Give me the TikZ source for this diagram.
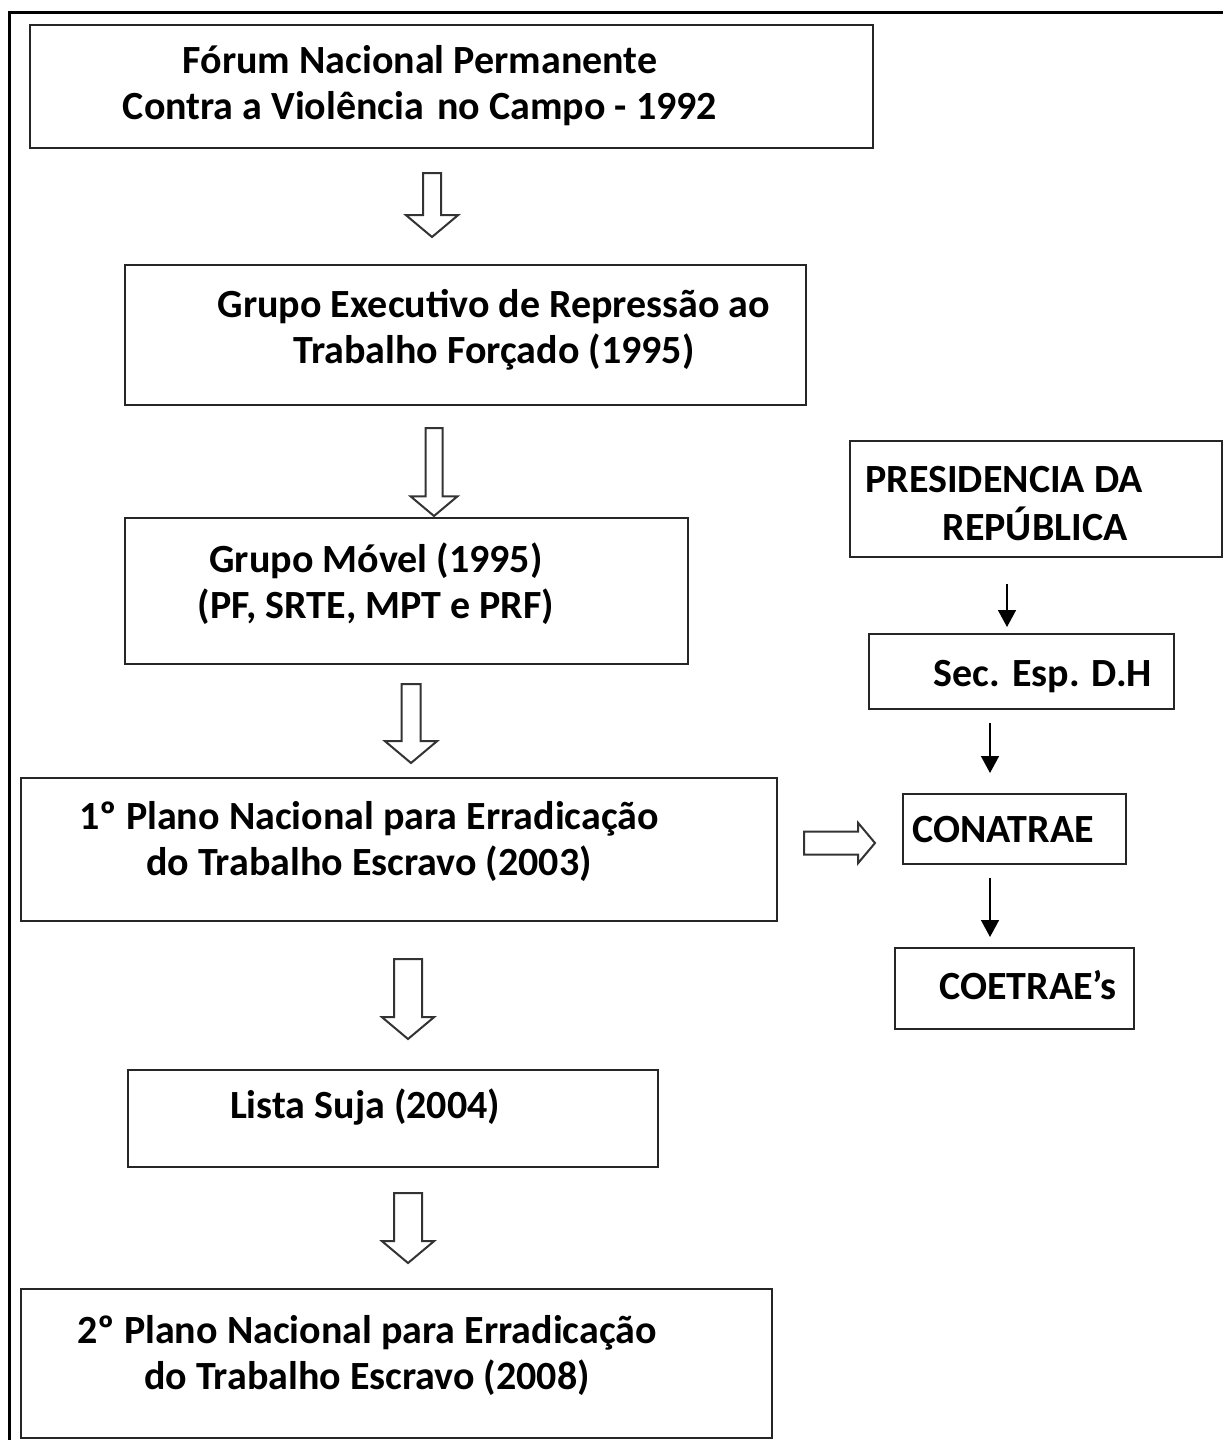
\documentclass[tikz,border=0pt]{standalone}
\usepackage{fontspec}
\setmainfont{Carlito}
\usetikzlibrary{fit,shapes.arrows,arrows.meta}

\tikzset{
	box/.style={draw=black!85,line width=1pt,inner sep=0pt},
	txt/.style={font=\fontsize{20pt}{23pt}\selectfont\bfseries,align=center,inner sep=0pt},
	hollow/.style={single arrow,draw=black!80,line width=1pt,anchor=tail,inner xsep=0pt,single arrow tip angle=100},
	flow/.style={-{Triangle[length=8.5pt,width=9pt]},line width=0.75pt}
}

\begin{document}
\begin{tikzpicture}[x=0.5pt,y=-0.5pt]
		\useasboundingbox (0,0) rectangle (1223,1440);
		\draw[line width=1.5pt] (9,1440) -- (9,12) -- (1223,12);
		
		% left column
		\node[box,fit={(30,25) (873,148)}] (forum) {};
		\node[txt] (t-forum) at (420,86) {Fórum Nacional Permanente\\Contra a Violência\hspace{2pt} no Campo - 1992};
		
		\node[box,fit={(125,265) (806,405)}] (gexec) {};
		\node[txt] (t-gexec) at (494,330) {Grupo Executivo de Repressão ao\\Trabalho Forçado (1995)};
		
		\node[box,fit={(125,518) (688,664)}] (gmovel) {};
		\node[txt] (t-gmovel) at (376,584) {Grupo Móvel (1995)\\(PF, SRTE, MPT e PRF)};
		
		\node[box,fit={(21,778) (777,921)}] (plano1) {};
		\node[txt] (t-plano1) at (369,841) {1º Plano Nacional para Erradicação\\do Trabalho Escravo (2003)};
		
		\node[box,fit={(128,1070) (658,1167)}] (lista) {};
		\node[txt] (t-lista) at (365,1107) {Lista Suja (2004)};
		
		\node[box,fit={(21,1289) (772,1438)}] (plano2) {};
		\node[txt] (t-plano2) at (367,1355) {2º Plano Nacional para Erradicação\\do Trabalho Escravo (2008)};
		
		\node[hollow,rotate=-90,minimum height=32pt,inner ysep=4pt,single arrow head extend=8.5pt] (a1) at (432,172) {};
		\node[hollow,rotate=-90,minimum height=44pt,inner ysep=3.75pt,single arrow head extend=7.5pt] (a2) at (434,427) {};
		\node[hollow,rotate=-90,minimum height=39.5pt,inner ysep=4.25pt,single arrow head extend=8.25pt] (a3) at (411,683) {};
		\node[hollow,rotate=-90,minimum height=40pt,inner ysep=6.5pt,single arrow head extend=6pt] (a4) at (408,958) {};
		\node[hollow,rotate=-90,minimum height=35pt,inner ysep=6.5pt,single arrow head extend=6pt] (a5) at (408,1192) {};
		
		% right column
		\node[box,fit={(850,441) (1222,557)}] (pres) {};
		\node[txt] (t-pres1) at (1004,480) {PRESIDENCIA DA};
		\node[txt] (t-pres2) at (1035,524) {REPÚBLICA};
		
		\node[box,fit={(869,634) (1174,709)}] (sec) {};
		\node[txt] (t-sec) at (1043,677) {Sec. Esp. D.H};
		
		\node[box,fit={(903,794) (1126,864)}] (conatrae) {};
		\node[txt] (t-conatrae) at (1003,830) {CONATRAE};
		
		\node[box,fit={(895,948) (1134,1029)}] (coetrae) {};
		\node[txt] (t-coetrae) at (1028,985) {COETRAE’s};
		
		\node[hollow,minimum height=35.5pt,inner ysep=5.25pt,single arrow head extend=4.25pt] (a6) at (803,843) {};
		
		\coordinate (c1) at (1007,0);
		\coordinate (c2) at (990,0);
		\draw[flow,shorten <=13pt,shorten >=3pt] (pres.south -| c1) -- (sec.north -| c1);
		\draw[flow,shorten <=6.5pt,shorten >=10pt] (sec.south -| c2) -- (conatrae.north -| c2);
		\draw[flow,shorten <=6.5pt,shorten >=5pt] (conatrae.south -| c2) -- (coetrae.north -| c2);
	\end{tikzpicture}
\end{document}
